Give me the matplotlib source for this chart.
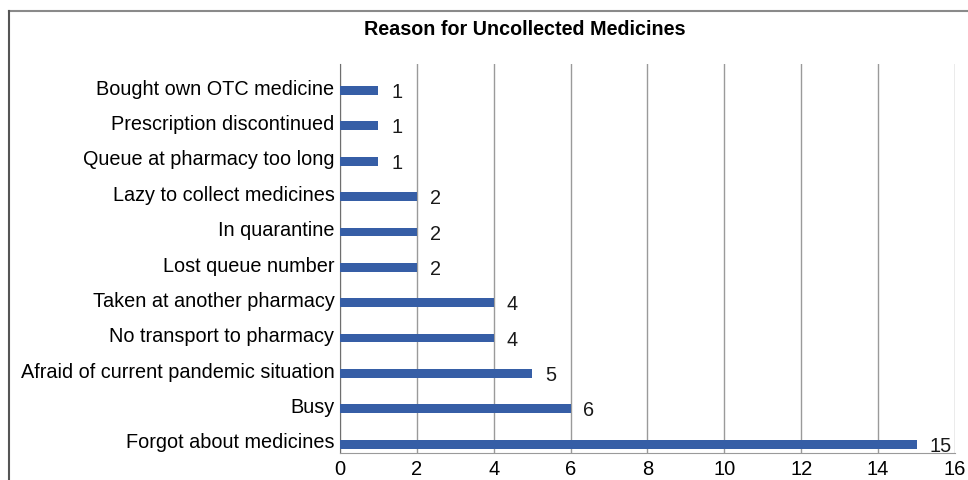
import matplotlib.pyplot as plt
from matplotlib.lines import Line2D

plt.rcParams['font.family'] = ['Liberation Sans', 'DejaVu Sans']

reasons = ["Forgot about medicines", "Busy", "Afraid of current pandemic situation",
           "No transport to pharmacy", "Taken at another pharmacy", "Lost queue number",
           "In quarantine", "Lazy to collect medicines", "Queue at pharmacy too long",
           "Prescription discontinued", "Bought own OTC medicine"]
counts = [15, 6, 5, 4, 4, 2, 2, 2, 1, 1, 1]
x_ticks = [0, 2, 4, 6, 8, 10, 12, 14, 16]

fig = plt.figure(figsize=(9.68, 4.81), dpi=100)
ax = fig.add_axes([0.3512, 0.0561, 0.6354, 0.8088])

ypos = list(range(len(reasons)))
# bars sit a bit below the category centre, as in the original
bar_y = [y - 0.25 for y in ypos]
ax.barh(bar_y, counts, height=0.25, color='#365EA6', zorder=3)
for y, v in zip(bar_y, counts):
    ax.text(v + 0.33, y - 0.03, str(v), va='center', ha='left', fontsize=14.3, color='#1a1a1a')

ax.set_xlim(0, 16)
ax.set_ylim(-0.5, len(reasons) - 0.5)
ax.set_xticks(x_ticks)
ax.set_xticklabels([str(t) for t in x_ticks], fontsize=14.5)
ax.set_yticks([y - 0.13 for y in ypos])
ax.set_yticklabels(reasons, fontsize=14.3)
ax.tick_params(axis='y', length=0, pad=4)
ax.tick_params(axis='x', length=0, pad=4)
ax.grid(axis='x', color='#9a9a9a', linewidth=1, zorder=0)
for s in ['top', 'right']:
    ax.spines[s].set_visible(False)
ax.spines['left'].set_color('#6e6e6e')
ax.spines['bottom'].set_color('#9a9a9a')

fig.text(0.542, 0.938, "Reason for Uncollected Medicines", ha='center', va='center',
         fontsize=14.2, fontweight='bold')

# outer frame (cropped at right and bottom)
fig.add_artist(Line2D([9 / 968, 1], [1 - 12 / 481, 1 - 12 / 481], color='#8a8a8a', linewidth=1.5))
fig.add_artist(Line2D([9 / 968, 9 / 968], [0, 1 - 12 / 481], color='#555555', linewidth=1.5))

fig.savefig('out.png', dpi=100)
